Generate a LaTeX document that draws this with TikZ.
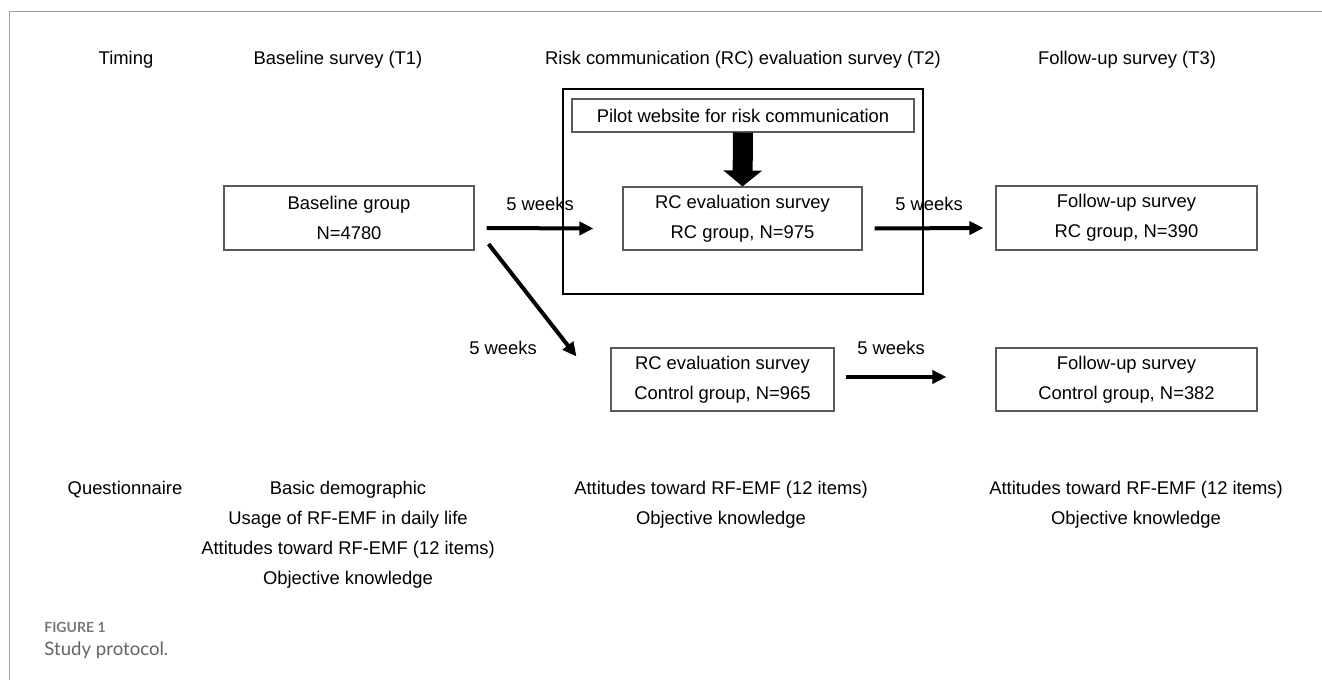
\documentclass[tikz,border=0pt]{standalone}
\usepackage{fontspec}
\setmainfont{Liberation Sans}
\newfontfamily\capfont{Lato}
\usetikzlibrary{arrows.meta,calc}
\definecolor{framegray}{RGB}{160,160,160}
\definecolor{boxgray}{RGB}{90,90,90}
\definecolor{capgray}{RGB}{120,120,120}
\definecolor{capdark}{RGB}{100,100,100}
\begin{document}
\begin{tikzpicture}[x=0.5pt,y=-0.5pt,
  txt/.style={font=\fontsize{9.2}{15}\selectfont, inner sep=0pt, align=center},
  box/.style={draw=boxgray, line width=0.55pt, font=\fontsize{9.2}{15}\selectfont, align=center, inner sep=0pt},
  arr/.style={line width=2pt, -{Triangle[length=7pt,width=6.5pt]}},
  bigarr/.style={line width=10pt, -{Triangle[length=8pt,width=19pt]}},
  frameline/.style={draw=framegray, line width=0.8pt},
  capsmall/.style={font=\capfont\bfseries\fontsize{7}{8}\selectfont, text=capgray, anchor=west, inner sep=0pt},
  capbig/.style={font=\capfont\fontsize{9.3}{11}\selectfont, text=capdark, anchor=west, inner sep=0pt}
]
\useasboundingbox (0,0) rectangle (1322,680);
% outer frame
\coordinate (ftl) at (9.5,11.5);
\coordinate (ftr) at (1322,11.5);
\coordinate (fbl) at (9.5,680);
\draw[frameline] (ftr) -- (ftl) -- (fbl);

% headers
\node[txt] (hTiming) at (126,60) {Timing};
\node[txt] (hT1) at (338,60) {Baseline survey (T1)};
\node[txt] (hT2) at (743,60) {Risk communication (RC) evaluation survey (T2)};
\node[txt] (hT3) at (1127,60) {Follow-up survey (T3)};

% RC frame
\node[draw=black, line width=1.2pt, minimum width=180pt, minimum height=102.5pt, inner sep=0pt] (rcframe) at (743,191.5) {};

% boxes
\node[box, minimum width=171pt, minimum height=16.5pt] (pilot) at (743,115.5) {Pilot website for risk communication};
\node[box, minimum width=125pt, minimum height=32pt] (base) at (349,218) {Baseline group\\N=4780};
\node[box, minimum width=119.5pt, minimum height=31.5pt] (rc) at (742.5,218.5) {RC evaluation survey\\RC group, N=975};
\node[box, minimum width=111.5pt, minimum height=31.5pt] (ctl) at (722.5,379.5) {RC evaluation survey\\Control group, N=965};
\node[box, minimum width=130.5pt, minimum height=32pt] (fu1) at (1126.5,218) {Follow-up survey\\RC group, N=390};
\node[box, minimum width=130.5pt, minimum height=31.5pt] (fu2) at (1126.5,379.5) {Follow-up survey\\Control group, N=382};

% arrows
\draw[bigarr] (pilot.south) -- (rc.north);
\draw[arr] ([xshift=6pt,yshift=-5pt]base.east) -- ([xshift=-14.5pt,yshift=-5pt]rc.west);
\draw[arr] ([xshift=6pt,yshift=-5pt]rc.east) -- ([xshift=-6pt,yshift=-5pt]fu1.west);
\draw[arr] ([xshift=7pt,yshift=-13pt]base.east) -- ([xshift=-17pt,yshift=-4.5pt]ctl.north west);
\draw[arr] ([xshift=5.5pt,yshift=1.25pt]ctl.east) -- ([xshift=-24.5pt,yshift=1.25pt]fu2.west);

% arrow labels
\node[txt] (w1) at (540,204) {5 weeks};
\node[txt] (w2) at (929,204) {5 weeks};
\node[txt] (w3) at (503,348) {5 weeks};
\node[txt] (w4) at (891,348) {5 weeks};

% questionnaire
\node[txt] (q) at (125,490) {Questionnaire};
\node[txt] (q1) at (348,535) {Basic demographic\\Usage of RF-EMF in daily life\\Attitudes toward RF-EMF (12 items)\\Objective knowledge};
\node[txt] (q2) at (721,505) {Attitudes toward RF-EMF (12 items)\\Objective knowledge};
\node[txt] (q3) at (1136,505) {Attitudes toward RF-EMF (12 items)\\Objective knowledge};

% caption
\node[capsmall] (fig) at (44,627) {FIGURE 1};
\node[capbig] (cap) at (44,650) {Study protocol.};
\end{tikzpicture}
\end{document}
